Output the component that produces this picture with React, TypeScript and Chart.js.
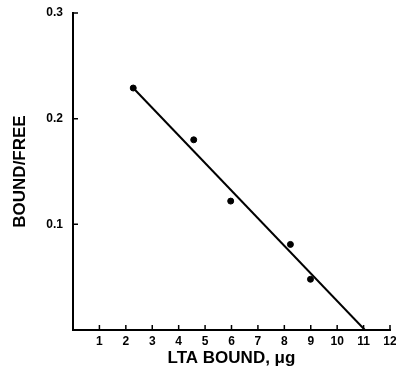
import React, { useEffect, useRef } from "react";
import { Chart, registerables } from "chart.js";

Chart.register(...registerables);

const boundX = [2.28, 4.57, 5.97, 8.23, 8.99];
const ratioY = [0.229, 0.18, 0.122, 0.081, 0.048];
const fitX = [2.28, 11.05];
const fitY = [0.229, 0];
const xTickValues = [1, 2, 3, 4, 5, 6, 7, 8, 9, 10, 11, 12];
const yTickValues = [0.1, 0.2, 0.3];
const xTitle = "LTA BOUND, \u03bcg";
const yTitle = "BOUND/FREE";

const FONT = "Arial, 'Liberation Sans', Helvetica, sans-serif";

const innerTicks = {
  id: "innerTicks",
  afterDatasetsDraw(chart: any) {
    const ctx = chart.ctx;
    const xs = chart.scales.x;
    const ys = chart.scales.y;
    ctx.save();
    ctx.strokeStyle = "#000";
    ctx.lineWidth = 1.5;
    ctx.beginPath();
    xTickValues.forEach((v) => {
      const px = xs.getPixelForValue(v);
      ctx.moveTo(px, ys.bottom);
      ctx.lineTo(px, ys.bottom - 5);
    });
    yTickValues.forEach((v) => {
      const py = ys.getPixelForValue(v);
      ctx.moveTo(xs.left, py);
      ctx.lineTo(xs.left + 5, py);
    });
    ctx.stroke();
    ctx.restore();
  },
};

export default function App() {
  const ref = useRef<HTMLCanvasElement | null>(null);
  useEffect(() => {
    if (!ref.current) return;
    const chart = new Chart(ref.current, {
      type: "scatter",
      data: {
        datasets: [
          {
            data: boundX.map((x, i) => ({ x, y: ratioY[i] })),
            backgroundColor: "#000",
            borderColor: "#000",
            pointRadius: 3,
            showLine: false,
          },
          {
            data: fitX.map((x, i) => ({ x, y: fitY[i] })),
            borderColor: "#000",
            borderWidth: 2,
            pointRadius: 0,
            showLine: true,
            fill: false,
          },
        ],
      },
      options: {
        animation: false,
        responsive: true,
        maintainAspectRatio: false,
        layout: { padding: { top: 13, right: 6, left: 0, bottom: 0 } },
        plugins: { legend: { display: false }, tooltip: { enabled: false } },
        scales: {
          x: {
            type: "linear",
            min: 0,
            max: 12,
            grid: { display: false, drawTicks: false },
            border: { display: true, color: "#000", width: 2 },
            ticks: {
              stepSize: 1,
              padding: 4,
              color: "#000",
              font: { family: FONT, size: 12, weight: "bold" },
              callback: (v: any) => (v === 0 ? "" : String(v)),
            },
            title: {
              display: true,
              text: xTitle,
              color: "#000",
              font: { family: FONT, size: 17, weight: "bold" },
              padding: { top: 0, bottom: 6 },
            },
            afterFit: (s: any) => {
              s.height = 45;
              s.paddingLeft = 0;
              s.paddingRight = 0;
            },
          },
          y: {
            type: "linear",
            min: 0,
            max: 0.3,
            grid: { display: false, drawTicks: false },
            border: { display: true, color: "#000", width: 2 },
            ticks: {
              stepSize: 0.1,
              padding: 10,
              color: "#000",
              font: { family: FONT, size: 12, weight: "bold" },
              callback: (v: any) => (Math.abs(v) < 1e-9 ? "" : Number(v).toFixed(1)),
            },
            title: {
              display: true,
              text: yTitle,
              color: "#000",
              font: { family: FONT, size: 17, weight: "bold" },
              padding: { top: 10, bottom: 0 },
            },
            afterFit: (s: any) => {
              s.width = 73;
              s.paddingTop = 0;
              s.paddingBottom = 0;
            },
          },
        },
      },
      plugins: [innerTicks],
    } as any);
    return () => chart.destroy();
  }, []);
  return (
    <div style={{ position: "fixed", left: 0, top: 0, width: 396, height: 375, background: "#fff" }}>
      <canvas ref={ref} />
    </div>
  );
}
